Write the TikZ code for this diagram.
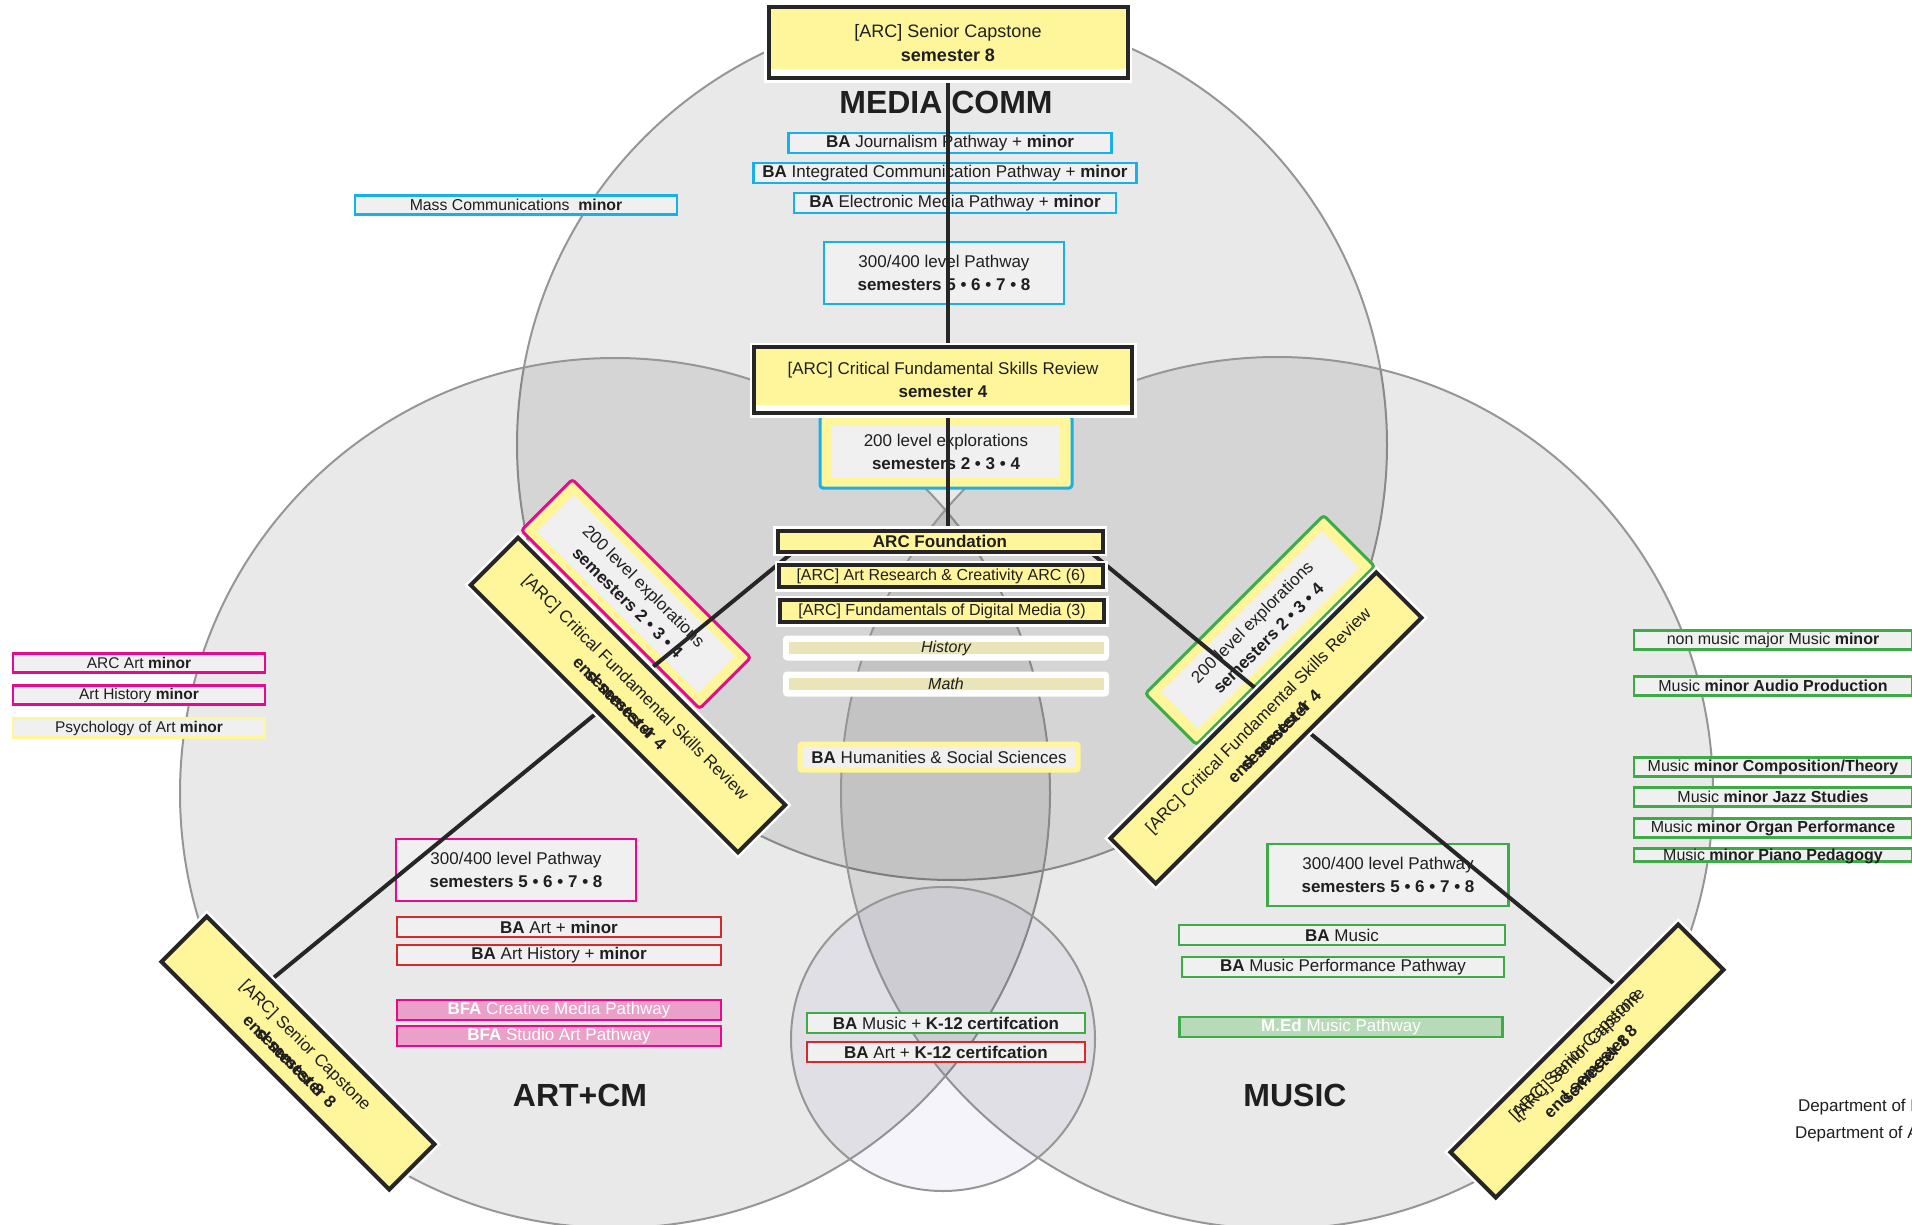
\documentclass[tikz,border=0pt]{standalone}
\usepackage{fontspec}
\setmainfont{Liberation Sans}
\usetikzlibrary{calc}

\definecolor{arcyellow}{RGB}{255,245,155}
\definecolor{mcblue}{RGB}{24,176,230}
\definecolor{artpink}{RGB}{232,10,140}
\definecolor{artred}{RGB}{214,40,45}
\definecolor{musgreen}{RGB}{62,170,72}
\definecolor{boxgray}{RGB}{240,240,240}
\definecolor{bfapink}{RGB}{234,160,200}
\definecolor{medgreen}{RGB}{184,218,184}
\definecolor{bandolive}{RGB}{233,229,184}
\definecolor{ringgray}{RGB}{150,150,150}

\newcommand{\fsz}[2]{\fontsize{#1}{#2}\selectfont}

\pgfdeclarelayer{front}
\pgfsetlayers{main,front}

\begin{document}
\begin{tikzpicture}[x={(1pt,0pt)},y={(0pt,-1pt)},
  every node/.style={inner sep=0pt, outer sep=0pt, text=black!88},
  ring/.style={draw=ringgray, line width=2pt, fill=black, fill opacity=0.085},
  circlelabel/.style={font=\fsz{32}{32}\bfseries},
  pathbox/.style={draw=#1, line width=2.6pt, fill=boxgray, minimum height=20pt, font=\fsz{17}{20}},
  minorbox/.style={draw=#1, line width=2.6pt, fill=boxgray, minimum width=252pt, minimum height=19pt, font=\fsz{15.5}{18}},
  levelbox/.style={draw=#1, line width=2.6pt, fill=boxgray, minimum width=240pt, minimum height=62pt, align=center, font=\fsz{17}{23}},
  expbox/.style={draw=#1, line width=3pt, fill=arcyellow, rounded corners=3pt, minimum width=252pt, minimum height=72pt},
  expin/.style={fill=boxgray, minimum width=228pt, minimum height=52pt, align=center, font=\fsz{17}{23}},
  arcbox/.style={draw=black!85, line width=4pt, fill=arcyellow, preaction={draw=white, line width=9pt}},
  arctext/.style={align=center, font=\fsz{17}{23}},
  stripbox/.style={fill=white, path picture={\fill[arcyellow] (path picture bounding box.north west) rectangle ([yshift=#1]path picture bounding box.south east);}},
  band/.style={fill=white, rounded corners=4pt, minimum width=326pt, minimum height=25pt},
  conn/.style={draw=black!85, line width=4pt}]

\useasboundingbox (0,0) rectangle (1912,1225);

% the three departments and the shared certification circle
\draw[ring] (952,445) circle [radius=435];
\draw[ring] (615,793) circle [radius=435];
\draw[ring] (1277,793) circle [radius=436];
\draw[ring, fill=blue!40!gray, fill opacity=0.06] (943,1039) circle [radius=152];

\node[circlelabel] (lblMedia) at (946,102) {MEDIA COMM};
\node[circlelabel] (lblArt) at (580,1095) {ART+CM};
\node[circlelabel] (lblMusic) at (1295,1095) {MUSIC};

% media comm
\node[pathbox=mcblue, minimum width=323pt] (jour) at (950,143) {\textbf{BA} Journalism Pathway + \textbf{minor}};
\node[pathbox=mcblue, minimum width=383pt] (intc) at (945,173) {\textbf{BA} Integrated Communication Pathway + \textbf{minor}};
\node[pathbox=mcblue, minimum width=322pt] (elec) at (955,203) {\textbf{BA} Electronic Media Pathway + \textbf{minor}};
\node[levelbox=mcblue] (lvlMedia) at (944,273) {300/400 level Pathway\\\textbf{semesters 5 • 6 • 7 • 8}};
\node[minorbox=mcblue, minimum width=322pt, font=\fsz{15.8}{18}] (mcMinor) at (516,205) {Mass Communications\ \ \textbf{minor}};

\node[expbox=mcblue] (expMedia) at (946,452) {};
\node[expin] at (expMedia) {200 level explorations\\\textbf{semesters 2 • 3 • 4}};
\node[expbox=artpink, rotate=-45] (expArt) at (636,594) {};
\node[expin, rotate=-45] at (expArt) {200 level explorations\\\textbf{semesters 2 • 3 • 4}};
\node[expbox=musgreen, rotate=45] (expMusic) at (1260,630) {};
\node[expin, rotate=45] at (expMusic) {200 level explorations\\\textbf{semesters 2 • 3 • 4}};

% general education stack
\node[band] (hist) at (946,648) {};
\node[fill=bandolive, minimum width=315pt, minimum height=12pt] at (hist) {};
\node[font=\fsz{16}{18}\itshape] at (hist) {History};
\node[band] (math) at (946,684) {};
\node[fill=bandolive, minimum width=315pt, minimum height=12pt] at (math) {};
\node[font=\fsz{16}{18}\itshape] at (math) {Math};
\node[draw=arcyellow, line width=5pt, fill=boxgray, rounded corners=2pt, minimum width=278pt, minimum height=26pt, font=\fsz{17}{20}] (hum) at (939,757) {\textbf{BA} Humanities \& Social Sciences};

% art + cm
\node[levelbox=artpink] (lvlArt) at (516,870) {300/400 level Pathway\\\textbf{semesters 5 • 6 • 7 • 8}};
\node[pathbox=artred, minimum width=324pt] (baArt) at (559,927) {\textbf{BA} Art + \textbf{minor}};
\node[pathbox=artred, minimum width=324pt] (baArtHist) at (559,955) {\textbf{BA} Art History + \textbf{minor}};
\node[pathbox=artpink, fill=bfapink, text=white, minimum width=324pt] (bfaMedia) at (559,1010) {\textbf{BFA} Creative Media Pathway};
\node[pathbox=artpink, fill=bfapink, text=white, minimum width=324pt] (bfaStudio) at (559,1036) {\textbf{BFA} Studio Art Pathway};

\node[minorbox=artpink] (arcArtMinor) at (139,663) {ARC Art \textbf{minor}};
\node[minorbox=artpink] (artHistMinor) at (139,695) {Art History \textbf{minor}};
\node[minorbox=arcyellow] (psyMinor) at (139,728) {Psychology of Art \textbf{minor}};

% music
\node[levelbox=musgreen, minimum width=241pt] (lvlMusic) at (1388,875) {300/400 level Pathway\\\textbf{semesters 5 • 6 • 7 • 8}};
\node[pathbox=musgreen, minimum width=326pt] (baMusic) at (1342,935) {\textbf{BA} Music};
\node[pathbox=musgreen, minimum width=322pt] (baPerf) at (1343,967) {\textbf{BA} Music Performance Pathway};
\node[pathbox=musgreen, fill=medgreen, text=white, minimum width=323pt] (med) at (1341,1027) {\textbf{M.Ed} Music Pathway};

\node[minorbox=musgreen, minimum width=278pt, font=\fsz{16}{18}] (musMinor) at (1773,640) {non music major Music \textbf{minor}};
\node[minorbox=musgreen, minimum width=278pt, font=\fsz{16}{18}] (audio) at (1773,686) {Music \textbf{minor Audio Production}};
\node[minorbox=musgreen, minimum width=278pt, font=\fsz{16}{18}] (comp) at (1773,767) {Music \textbf{minor Composition/Theory}};
\node[minorbox=musgreen, minimum width=278pt, font=\fsz{16}{18}] (jazz) at (1773,797) {Music \textbf{minor Jazz Studies}};
\node[minorbox=musgreen, minimum width=278pt, font=\fsz{16}{18}] (organ) at (1773,828) {Music \textbf{minor Organ Performance}};
\node[minorbox=musgreen, minimum width=278pt, minimum height=13pt, text height=12pt, text depth=1pt, font=\fsz{16}{18}] (piano) at (1773,855) {Music \textbf{minor Piano Pedagogy}};

% k-12
\node[pathbox=musgreen, minimum width=278pt] (k12Music) at (946,1023) {\textbf{BA} Music +\ \textbf{K-12 certifcation}};
\node[pathbox=artred, minimum width=278pt] (k12Art) at (946,1052) {\textbf{BA} Art +\ \textbf{K-12 certifcation}};

\node[anchor=west, font=\fsz{17}{20}] (deptM) at (1798,1107) {Department of M};
\node[anchor=west, font=\fsz{17}{20}] (deptA) at (1795,1134) {Department of A};

% ARC track on top of everything
\begin{pgfonlayer}{front}
\node[arcbox, stripbox=9pt, minimum width=359pt, minimum height=71pt, arctext, font=\fsz{18}{24}] (capT) at (948,43) {[ARC] Senior Capstone\\\textbf{semester 8}};
\node[arcbox, stripbox=8pt, minimum width=378pt, minimum height=66pt, arctext] (critT) at (943,380) {[ARC] Critical Fundamental Skills Review\\\textbf{semester 4}};
\node[arcbox, minimum width=325pt, minimum height=21pt, font=\fsz{17}{20}\bfseries] (found) at (940,541) {ARC Foundation};
\node[arcbox, minimum width=324pt, minimum height=22pt, font=\fsz{16}{18}] (artRes) at (941,576) {[ARC] Art Research \& Creativity ARC (6)};
\node[arcbox, minimum width=324pt, minimum height=22pt, font=\fsz{16}{18}] (digMedia) at (942,611) {[ARC] Fundamentals of Digital Media (3)};

\node[arcbox, rotate=-45, minimum width=378pt, minimum height=67pt] (critL) at (628,695) {};
\node[arctext, rotate=-45] at (critL) {[ARC] Critical Fundamental Skills Review\\\textbf{semester 4}};
\node[arctext, rotate=-45] at (critL) {\vphantom{[ARC]}\\\textbf{end semester 4}};
\node[arcbox, rotate=45, minimum width=376pt, minimum height=64pt] (critR) at (1266,728) {};
\node[arctext, rotate=45] at (critR) {[ARC] Critical Fundamental Skills Review\\\textbf{semester 4}};
\node[arctext, rotate=45] at (critR) {\vphantom{[ARC]}\\\textbf{end semester 4}};

\node[arcbox, rotate=-45, minimum width=322pt, minimum height=64pt] (capL) at (298,1053) {};
\node[arctext, rotate=-45] at (capL) {[ARC] Senior Capstone\\\textbf{semester 8}};
\node[arctext, rotate=-45] at (capL) {\vphantom{[ARC]}\\\textbf{end semester 8}};
\node[arcbox, rotate=45, minimum width=322pt, minimum height=64pt] (capR) at (1587,1061) {};
\node[arctext, rotate=45] at (capR) {[ARC] Senior Capstone\\\textbf{semester 8}};
\node[arctext, rotate=45, xshift=-5pt, yshift=2pt] at (capR) {[ARC] Senior Capstone\\\textbf{end semester 8}};
\end{pgfonlayer}

% connectors run under the ARC boxes
\draw[conn] (capT.south) -- (capT.south |- found.north);
\draw[conn] ($(found.south west)!0.05!(found.south east)$) -- ($(capL.north west)!0.28!(capL.north east)$);
\draw[conn] ($(found.south west)!0.96!(found.south east)$) -- ($(capR.north west)!0.73!(capR.north east)$);

\end{tikzpicture}
\end{document}
